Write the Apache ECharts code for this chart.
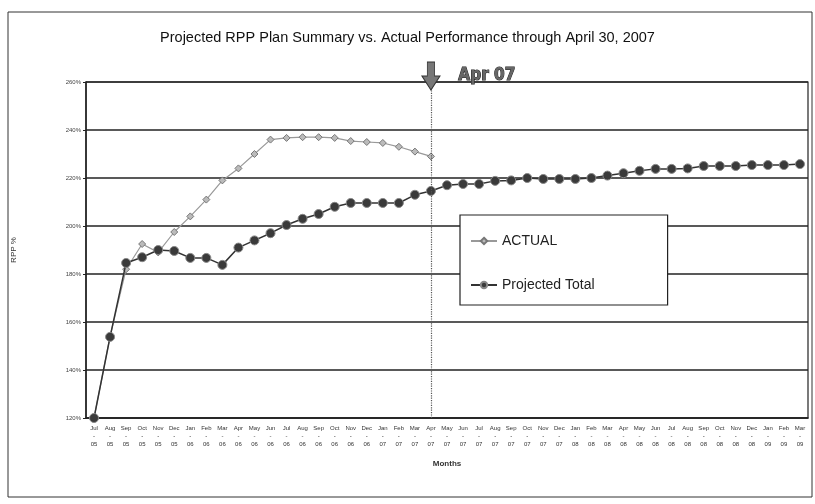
<!DOCTYPE html>
<html>
<head>
<meta charset="utf-8">
<title>Projected RPP Plan Summary vs. Actual Performance</title>
<script src="https://cdn.jsdelivr.net/npm/echarts@6/dist/echarts.min.js"></script>
<style>
  html, body { margin: 0; padding: 0; background: #fff; }
  #chart { width: 815px; height: 504px; }
</style>
</head>
<body>
<div id="chart"></div>
<script>
// months Jul-05 .. Mar-09
const months = [
  'Jul-05', 'Aug-05', 'Sep-05', 'Oct-05', 'Nov-05', 'Dec-05',
  'Jan-06', 'Feb-06', 'Mar-06', 'Apr-06', 'May-06', 'Jun-06',
  'Jul-06', 'Aug-06', 'Sep-06', 'Oct-06', 'Nov-06', 'Dec-06',
  'Jan-07', 'Feb-07', 'Mar-07', 'Apr-07', 'May-07', 'Jun-07',
  'Jul-07', 'Aug-07', 'Sep-07', 'Oct-07', 'Nov-07', 'Dec-07',
  'Jan-08', 'Feb-08', 'Mar-08', 'Apr-08', 'May-08', 'Jun-08',
  'Jul-08', 'Aug-08', 'Sep-08', 'Oct-08', 'Nov-08', 'Dec-08',
  'Jan-09', 'Feb-09', 'Mar-09'
];

// actual RPP % (through Apr-07)
const actual = [
  120, 154, 182, 192.5, 189, 197.5, 204, 211, 219, 224, 230,
  236, 236.7, 237, 237, 236.7, 235.4, 235, 234.6, 233, 231, 229
];

// projected total RPP %
const projected = [
  120, 153.8, 184.6, 187, 190, 189.6, 186.7, 186.7, 183.8, 191, 194,
  197, 200.4, 203, 205, 208, 209.6, 209.6, 209.6, 209.6, 213, 214.6,
  217, 217.5, 217.5, 218.8, 219, 220, 219.6, 219.6, 219.6, 220, 221,
  222, 223, 223.8, 223.8, 224, 225, 225, 225, 225.4, 225.4, 225.4, 225.8
];

const markerMonth = 'Apr-07';

const chart = echarts.init(document.getElementById('chart'));

chart.setOption({
  animation: false,
  backgroundColor: '#fff',
  textStyle: { fontFamily: 'Liberation Sans, Arial, sans-serif' },
  title: {
    text: 'Projected RPP Plan Summary vs. Actual Performance through April 30, 2007',
    left: 'center',
    top: 25,
    textStyle: { fontSize: 14.5, fontWeight: 'normal', color: '#111' }
  },
  graphic: [
    {
      type: 'rect',
      shape: { x: 8, y: 12, width: 804, height: 485 },
      style: { fill: 'none', stroke: '#333', lineWidth: 1 },
      silent: true
    }
  ],
  legend: {
    orient: 'vertical',
    left: 460,
    top: 215,
    padding: [19, 73, 13, 10],
    itemGap: 30,
    itemWidth: 26,
    itemHeight: 8,
    backgroundColor: '#fff',
    borderColor: '#222',
    borderWidth: 1.2,
    textStyle: { fontSize: 14, color: '#222' },
    data: ['ACTUAL', 'Projected Total']
  },
  grid: {
    left: 86,
    right: 7,
    top: 82,
    bottom: 86,
    show: true,
    borderColor: '#222',
    borderWidth: 1.2
  },
  xAxis: {
    type: 'category',
    data: months,
    boundaryGap: true,
    name: 'Months',
    nameLocation: 'middle',
    nameGap: 42,
    nameTextStyle: { fontSize: 8, fontWeight: 'bold', color: '#333' },
    axisLine: { lineStyle: { color: '#222', width: 1.5 } },
    axisTick: { alignWithLabel: true, length: 3, lineStyle: { color: '#222' } },
    axisLabel: {
      interval: 0,
      fontSize: 6,
      lineHeight: 8,
      color: '#333',
      margin: 6,
      formatter: v => v.replace('-', '\n-\n')
    }
  },
  yAxis: {
    type: 'value',
    min: 120,
    max: 260,
    interval: 20,
    name: 'RPP %',
    nameLocation: 'middle',
    nameGap: 68,
    nameTextStyle: { fontSize: 8, color: '#333' },
    axisLine: { show: true, lineStyle: { color: '#222', width: 1.5 } },
    axisTick: { show: true, length: 3, lineStyle: { color: '#222' } },
    axisLabel: { fontSize: 6, color: '#444', margin: 5, formatter: '{value}%' },
    splitLine: { lineStyle: { color: '#222', width: 1.5 } }
  },
  series: [
    {
      name: 'ACTUAL',
      type: 'line',
      data: actual,
      symbol: 'diamond',
      symbolSize: 7,
      lineStyle: { color: '#999', width: 1.2 },
      itemStyle: { color: '#bbb', borderColor: '#777', borderWidth: 1 },
      z: 3
    },
    {
      name: 'Projected Total',
      type: 'line',
      data: projected,
      symbol: 'circle',
      symbolSize: 9,
      lineStyle: { color: '#333', width: 1.5 },
      itemStyle: { color: '#3a3a3a', borderColor: '#888', borderWidth: 1 },
      z: 4,
      markLine: {
        silent: true,
        symbol: 'none',
        label: { show: false },
        lineStyle: { color: '#555', type: 'dotted', width: 1.2 },
        data: [{ xAxis: markerMonth }]
      },
      markPoint: {
        silent: true,
        symbol: 'path://M3,0 L7,0 L7,6 L10,6 L5,12 L0,6 L3,6 Z',
        symbolSize: [18, 28],
        symbolOffset: [0, -6],
        itemStyle: { color: '#777', borderColor: '#333', borderWidth: 1 },
        label: {
          show: true,
          position: 'right',
          distance: 18,
          formatter: 'Apr 07',
          fontSize: 17,
          fontWeight: 'bold',
          fontFamily: 'DejaVu Sans Condensed, Liberation Sans Narrow, sans-serif',
          color: '#666',
          textBorderColor: '#222',
          textBorderWidth: 1
        },
        data: [{ coord: [markerMonth, 260] }]
      }
    }
  ]
});
</script>
</body>
</html>
